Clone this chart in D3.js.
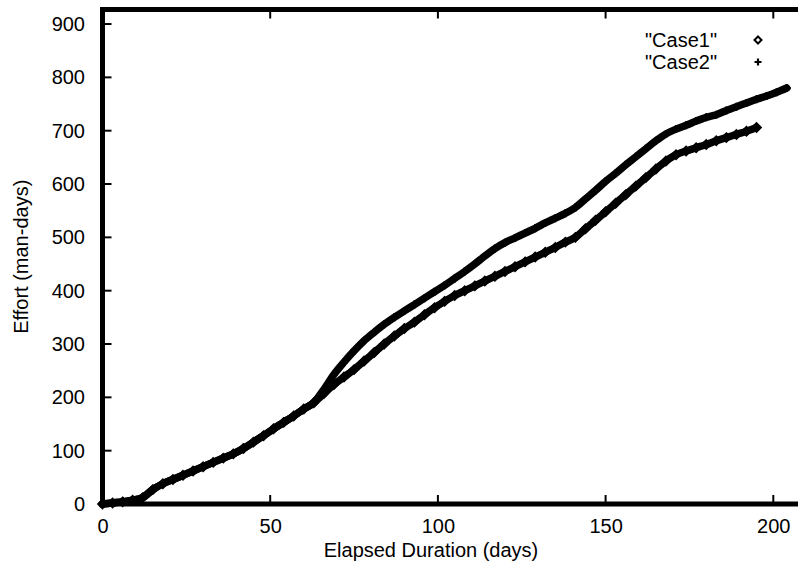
<!DOCTYPE html>
<html>
<head>
<meta charset="utf-8">
<script src="https://cdn.jsdelivr.net/npm/d3@7"></script>
<style>
  html, body { margin: 0; padding: 0; background: #fff; }
  svg { display: block; }
  text { font-family: "Liberation Sans", Arial, sans-serif; fill: #000; }
</style>
</head>
<body>
<svg id="chart" width="798" height="564"></svg>
<script>
// ---- data ----
const seriesNames = ['"Case1"', '"Case2"'];
const case1Days = [0,3,6,9,12,15,18,21,24,27,30,33,36,39,42,45,48,51,54,57,60,63,66,69,72,75,78,81,84,87,90,93,96,99,102,105,108,111,114,117,120,123,126,129,132,135,138,141,144,147,150,153,156,159,162,165,168,171,174,177,180,183,186,189,192,195];
const case1Effort = [0,2,4,7,12,27,38,46,54,62,70,78,86,94,104,116,128,141,153,165,178,190,207,224,238,252,268,284,300,315,329,341,355,368,380,391,400,409,418,427,436,445,454,463,472,481,491,500,516,532,548,564,580,596,612,628,643,655,662,668,674,681,687,693,699,706];
const case2Days = [0,3,6,9,12,15,18,21,24,27,30,33,36,39,42,45,48,51,54,57,60,63,66,69,72,75,78,81,84,87,90,93,96,99,102,105,108,111,114,117,120,123,126,129,132,135,138,141,144,147,150,153,156,159,162,165,168,171,174,177,180,183,186,189,192,195,198,201,204];
const case2Effort = [0,2,4,7,12,27,38,46,54,62,70,78,86,94,104,116,128,141,153,165,178,190,215,243,266,287,306,322,337,350,362,374,386,398,410,423,436,450,465,479,490,499,508,517,527,536,545,556,572,588,605,620,636,651,666,681,694,703,710,718,725,730,738,745,752,759,765,772,780];
const xTicks = [0, 50, 100, 150, 200];
const yTicks = [0, 100, 200, 300, 400, 500, 600, 700, 800, 900];
const xTitle = "Elapsed Duration (days)";
const yTitle = "Effort (man-days)";

(function () {
const FS = 20;
const FONT = '"Liberation Sans", Arial, sans-serif';
// ---- layout ----
const svg = d3.select("#chart");
const pLeft = 102.5, pBottom = 504, pTop = 9.5;
const x = d3.scaleLinear().domain([0, 210]).range([pLeft, pLeft + 210 * 3.354]);
const y = d3.scaleLinear().domain([0, 900]).range([pBottom, pBottom - 900 * 0.5333]);
const pRight = x(210);

// series
const s1 = case1Days.map((d, i) => [d, case1Effort[i]]);
const s2 = case2Days.map((d, i) => [d, case2Effort[i]]);
const line = d3.line().x(d => x(d[0])).y(d => y(d[1])).curve(d3.curveMonotoneX);

const gData = svg.append("g");
[s2, s1].forEach(s => {
  gData.append("path").datum(s).attr("d", line)
    .attr("fill", "none").attr("stroke", "#000").attr("stroke-width", 7.5)
    .attr("stroke-linejoin", "round").attr("stroke-linecap", "round");
});
// markers
const diamond = (cx, cy, r) => `M${cx},${cy - r}L${cx + r},${cy}L${cx},${cy + r}L${cx - r},${cy}Z`;
gData.selectAll(".p2").data(s2).enter().append("path")
  .attr("d", d => `M${x(d[0]) - 4},${y(d[1])}h8M${x(d[0])},${y(d[1]) - 4}v8`)
  .attr("stroke", "#000").attr("stroke-width", 2.2).attr("fill", "none");
gData.selectAll(".p1").data(s1).enter().append("path")
  .attr("d", d => diamond(x(d[0]), y(d[1]), 4.3))
  .attr("stroke", "#000").attr("stroke-width", 2).attr("fill", "none");

// axes frame
const gAx = svg.append("g");
gAx.append("path")
  .attr("d", `M${pRight},${pTop}H${pLeft}V${pBottom}H${pRight}`)
  .attr("fill", "none").attr("stroke", "#000").attr("stroke-width", 5)
  .attr("stroke-linecap", "square");

// ticks (inward) and labels
xTicks.forEach(t => {
  if (t > 0) {
    gAx.append("line").attr("x1", x(t)).attr("x2", x(t)).attr("y1", pBottom).attr("y2", pBottom - 9)
      .attr("stroke", "#000").attr("stroke-width", 2);
    gAx.append("line").attr("x1", x(t)).attr("x2", x(t)).attr("y1", pTop).attr("y2", pTop + 9)
      .attr("stroke", "#000").attr("stroke-width", 2);
  }
});
const xAxisB = d3.axisBottom(x).tickValues(xTicks).tickSize(0).tickPadding(0);
const gx = svg.append("g").attr("transform", `translate(0,${pBottom})`).call(xAxisB);
gx.select(".domain").remove();
gx.selectAll("text").attr("font-size", FS).attr("y", 29).attr("dy", 0)
  .style("font-family", FONT).attr("fill", "#000");

yTicks.forEach(t => {
  if (t > 0) {
    gAx.append("line").attr("x1", pLeft).attr("x2", pLeft + 9).attr("y1", y(t)).attr("y2", y(t))
      .attr("stroke", "#000").attr("stroke-width", 2);
  }
});
const yAxisL = d3.axisLeft(y).tickValues(yTicks).tickSize(0).tickPadding(0);
const gy = svg.append("g").call(yAxisL);
gy.select(".domain").remove();
gy.selectAll(".tick").attr("transform", d => `translate(85,${y(d)})`);
gy.selectAll("text").attr("font-size", FS).attr("x", 0).attr("dy", "0.35em")
  .style("font-family", FONT).attr("fill", "#000");

// titles
svg.append("text").attr("x", 431).attr("y", 557).attr("text-anchor", "middle")
  .attr("font-size", FS).text(xTitle);
svg.append("text").attr("transform", `translate(28,${(pTop + pBottom) / 2}) rotate(-90)`)
  .attr("text-anchor", "middle").attr("font-size", FS).text(yTitle);

// legend
const legY = [40, 62];
seriesNames.forEach((n, i) => {
  svg.append("text").attr("x", 717).attr("y", legY[i]).attr("dy", "0.35em")
    .attr("text-anchor", "end").attr("font-size", FS).text(n);
});
svg.append("path").attr("d", diamond(758, legY[0], 3.5)).attr("stroke", "#000").attr("stroke-width", 2).attr("fill", "none");
svg.append("path").attr("d", `M${758 - 3.5},${legY[1]}h7M758,${legY[1] - 3.5}v7`).attr("stroke", "#000").attr("stroke-width", 2.2);
})();
</script>
</body>
</html>
